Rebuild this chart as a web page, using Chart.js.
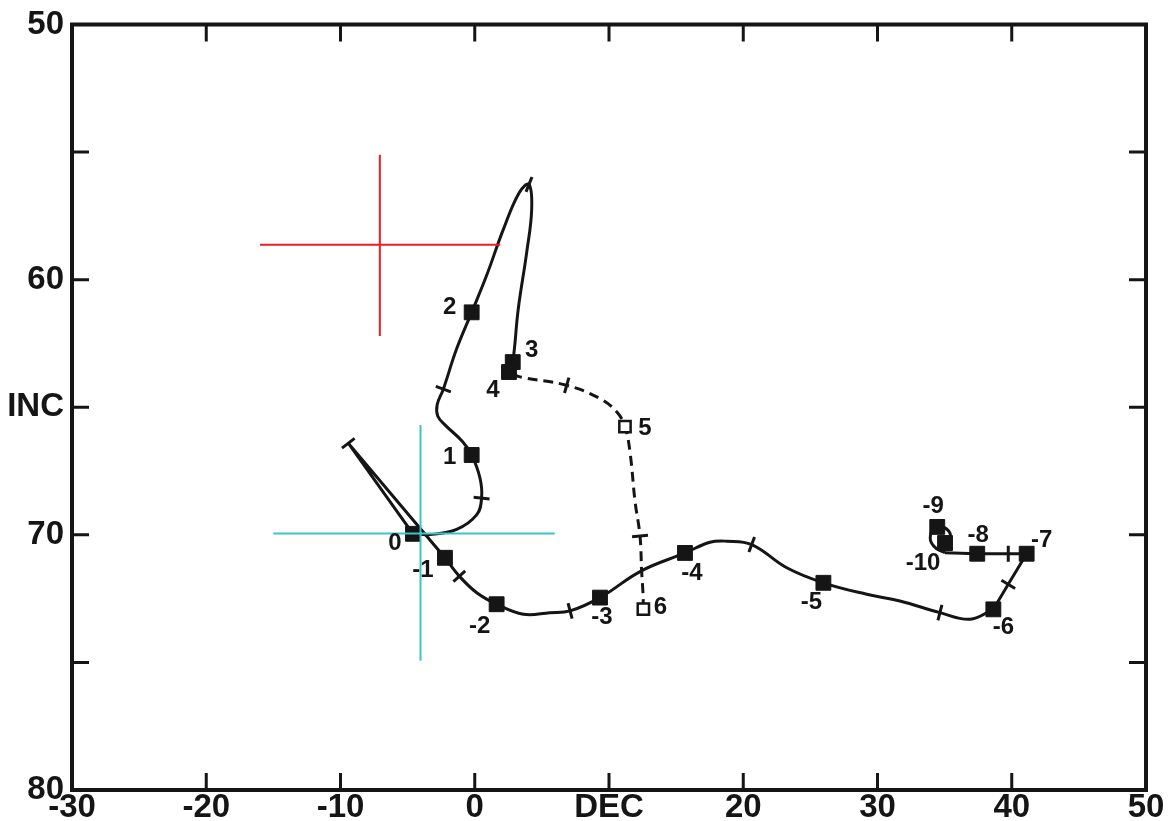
<!DOCTYPE html>
<html>
<head>
<meta charset="utf-8">
<script src="https://cdn.jsdelivr.net/npm/chart.js@4/dist/chart.umd.min.js"></script>
<style>
  html, body { margin: 0; padding: 0; background: #fff; }
  #wrap { width: 1173px; height: 821px; }
</style>
</head>
<body>
<div id="wrap"><canvas id="decInc"></canvas></div>
<script>
// axis ticks
const xTickValues = [-30, -20, -10, 0, 10, 20, 30, 40, 50];
const xTickLabels = ["-30", "-20", "-10", "0", "DEC", "20", "30", "40", "50"];
const yTickValues = [50, 55, 60, 65, 70, 75, 80];
const yTickLabels = ["50", "", "60", "INC", "70", "", "80"];

// solid path, 4 -> 3 -> loop top -> 2 -> 1 -> 0
const upperDec = [2.55, 2.83, 3.24, 3.87, 4.24, 4.04, 3.3, 2.13, 0.88, -0.23, -1.35, -2.34, -2.8, -2.75, -2.2, -0.9, -0.23, 0.39, 0.51, 0.15, -1.35, -3.33, -4.6];
const upperInc = [63.62, 63.23, 61.15, 58.93, 57.25, 56.27, 56.6, 58.03, 59.84, 61.28, 62.71, 64.29, 64.9, 65.35, 65.7, 66.35, 66.87, 67.78, 68.56, 69.21, 69.79, 69.99, 69.96];

// narrow excursion between 0 and -1
const wedgeDec = [-4.6, -9.42, -2.22];
const wedgeInc = [69.96, 66.41, 70.9];

// solid path, -1 -> -6
const lowerDec = [-2.22, -1.15, 0.15, 1.63, 3.62, 5.6, 7.1, 9.33, 12.38, 15.66, 17.52, 18.77, 20.63, 23.24, 25.97, 29.2, 31.67, 34.65, 36.89, 38.63];
const lowerInc = [70.9, 71.62, 72.27, 72.72, 73.11, 73.05, 72.98, 72.46, 71.42, 70.71, 70.29, 70.25, 70.38, 71.29, 71.88, 72.33, 72.59, 73.05, 73.31, 72.92];

// -6 -> -7 -> -8 -> -10
const eastDec = [38.63, 39.74, 41.11, 39.74, 37.43, 35.03];
const eastInc = [72.92, 71.94, 70.74, 70.74, 70.74, 70.7];

// small loop at -10 / -9
const loopDec = [35.03, 34.2, 33.95, 34.45, 35.3, 35.35, 35.03];
const loopInc = [70.7, 70.45, 70.0, 69.69, 69.85, 70.25, 70.32];

// dashed path, 6 -> 5 -> 4
const dashDec = [12.56, 12.53, 12.43, 12.31, 11.94, 11.56, 11.19, 10.57, 9.33, 6.85, 3.37, 2.55];
const dashInc = [72.91, 72.27, 71.42, 70.05, 68.69, 66.74, 65.76, 65.18, 64.66, 64.14, 63.81, 63.62];

// filled squares
const fullDec = [2.55, 2.83, -0.23, -0.23, -4.6, -2.22, 1.63, 9.33, 15.66, 25.97, 38.63, 41.11, 37.43, 34.45, 35.03];
const fullInc = [63.62, 63.23, 61.28, 66.87, 69.96, 70.9, 72.72, 72.46, 70.71, 71.88, 72.92, 70.74, 70.74, 69.69, 70.32];
const fullLabels = ["4", "3", "2", "1", "0", "-1", "-2", "-3", "-4", "-5", "-6", "-7", "-8", "-9", "-10"];

// open squares
const openDec = [11.19, 12.56];
const openInc = [65.76, 72.91];
const openLabels = ["5", "6"];

// cross ticks on the paths
const tickDec = [4.04, -2.34, 0.51, -9.42, -1.15, 7.1, 20.63, 34.65, 39.74, 39.74, 6.85, 12.31];
const tickInc = [56.27, 64.29, 68.56, 66.41, 71.62, 72.98, 70.38, 73.05, 71.94, 70.74, 64.14, 70.05];

// reference crosses: [left, centre, right] and [top, centre, bottom]
const redDec = [-16.0, -7.07, 1.9];
const redInc = [55.1, 58.63, 62.21];
const cyanDec = [-15.01, -4.04, 5.96];
const cyanInc = [65.7, 69.95, 74.93];

// label offsets in px from their square
const fullOffsets = [[-16, 18], [19, -12], [-22, -5], [-22, 2], [-18, 10], [-22, 13], [-17, 22], [2, 20], [7, 20], [-12, 20], [10, 18], [15, -13], [1, -18], [-4, -21], [-22, 20]];
const openOffsets = [[20, 2], [17, -2]];

const INK = "#151515";
const FONT = "'Liberation Sans', Arial, sans-serif";

const pts = (xs, ys) => xs.map((x, i) => ({ x: x, y: ys[i] }));

const paths = [
  [upperDec, upperInc],
  [wedgeDec, wedgeInc],
  [lowerDec, lowerInc],
  [eastDec, eastInc],
  [loopDec, loopInc],
  [dashDec, dashInc],
];

// tick marks sit across the path they belong to
function tickRotation(ctx) {
  const chart = ctx.chart;
  const sx = chart.scales.x, sy = chart.scales.y;
  const p = ctx.raw;
  if (!p || !sx || !sy) return 0;
  const px = sx.getPixelForValue(p.x), py = sy.getPixelForValue(p.y);
  if (!isFinite(px) || !isFinite(py)) return 0;
  let best = null, bestD = Infinity;
  paths.forEach(([xs, ys]) => {
    xs.forEach((x, j) => {
      const d = Math.hypot(sx.getPixelForValue(x) - px, sy.getPixelForValue(ys[j]) - py);
      if (d < bestD) { bestD = d; best = [xs, ys, j]; }
    });
  });
  if (!best) return 0;
  const [xs, ys, j] = best;
  const P = (k) => [sx.getPixelForValue(xs[k]), sy.getPixelForValue(ys[k])];
  const prev = P(Math.max(0, j - 1)), cur = P(j), next = P(Math.min(xs.length - 1, j + 1));
  const unit = (a, b) => {
    const dx = b[0] - a[0], dy = b[1] - a[1], l = Math.hypot(dx, dy) || 1;
    return [dx / l, dy / l];
  };
  const d1 = j > 0 ? unit(prev, cur) : unit(cur, next);
  const d2 = j < xs.length - 1 ? unit(cur, next) : d1;
  let t = [d1[0] + d2[0], d1[1] + d2[1]];
  if (Math.hypot(t[0], t[1]) < 0.5) t = [d2[0] - d1[0], d2[1] - d1[1]];
  return Math.atan2(t[1], t[0]) * 180 / Math.PI + 90;
}

const solid = (xs, ys, tension) => ({
  data: pts(xs, ys),
  showLine: true,
  borderColor: INK,
  borderWidth: 3,
  pointRadius: 0,
  tension: tension,
  order: 3,
});

const frame = {
  id: "frame",
  beforeDatasetsDraw(chart) {
    const { ctx, chartArea: a, scales: { x, y } } = chart;
    ctx.save();
    ctx.strokeStyle = INK;
    ctx.lineWidth = 4;
    ctx.strokeRect(a.left, a.top, a.right - a.left, a.bottom - a.top);
    ctx.lineWidth = 3;
    ctx.beginPath();
    xTickValues.slice(1, -1).forEach((v) => {
      const px = x.getPixelForValue(v);
      ctx.moveTo(px, a.bottom); ctx.lineTo(px, a.bottom - 17);
      ctx.moveTo(px, a.top); ctx.lineTo(px, a.top + 17);
    });
    yTickValues.slice(1, -1).forEach((v) => {
      const py = y.getPixelForValue(v);
      ctx.moveTo(a.left, py); ctx.lineTo(a.left + 17, py);
      ctx.moveTo(a.right, py); ctx.lineTo(a.right - 17, py);
    });
    ctx.stroke();
    ctx.restore();
  },
};

const pointLabels = {
  id: "pointLabels",
  afterDatasetsDraw(chart) {
    const { ctx, scales: { x, y } } = chart;
    ctx.save();
    ctx.fillStyle = INK;
    ctx.font = "bold 24px " + FONT;
    ctx.textAlign = "center";
    ctx.textBaseline = "middle";
    const put = (xs, ys, labels, offsets) => {
      labels.forEach((t, i) => {
        ctx.fillText(t, x.getPixelForValue(xs[i]) + offsets[i][0], y.getPixelForValue(ys[i]) + offsets[i][1]);
      });
    };
    put(fullDec, fullInc, fullLabels, fullOffsets);
    put(openDec, openInc, openLabels, openOffsets);
    ctx.restore();
  },
};

new Chart(document.getElementById("decInc"), {
  type: "scatter",
  data: {
    datasets: [
      // reference crosses
      { data: [{ x: redDec[0], y: redInc[1] }, { x: redDec[2], y: redInc[1] }], showLine: true, borderColor: "#ee1c25", borderWidth: 2, pointRadius: 0, order: 0 },
      { data: [{ x: redDec[1], y: redInc[0] }, { x: redDec[1], y: redInc[2] }], showLine: true, borderColor: "#ee1c25", borderWidth: 2, pointRadius: 0, order: 0 },
      { data: [{ x: cyanDec[0], y: cyanInc[1] }, { x: cyanDec[2], y: cyanInc[1] }], showLine: true, borderColor: "#3dc3c9", borderWidth: 2, pointRadius: 0, order: 0 },
      { data: [{ x: cyanDec[1], y: cyanInc[0] }, { x: cyanDec[1], y: cyanInc[2] }], showLine: true, borderColor: "#3dc3c9", borderWidth: 2, pointRadius: 0, order: 0 },
      // markers
      {
        data: pts(fullDec, fullInc),
        pointStyle: "rect",
        pointRadius: 10.5,
        pointBackgroundColor: INK,
        pointBorderColor: INK,
        pointBorderWidth: 1,
        order: 1,
      },
      {
        data: pts(openDec, openInc),
        pointStyle: "rect",
        pointRadius: 8,
        pointBackgroundColor: "#fff",
        pointBorderColor: INK,
        pointBorderWidth: 2.5,
        order: 1,
      },
      {
        data: pts(tickDec, tickInc),
        pointStyle: "line",
        pointRadius: 8,
        pointBorderColor: INK,
        pointBorderWidth: 3,
        pointRotation: tickRotation,
        order: 2,
      },
      // paths
      solid(upperDec, upperInc, 0.4),
      solid(wedgeDec, wedgeInc, 0),
      solid(lowerDec, lowerInc, 0.4),
      solid(eastDec, eastInc, 0),
      solid(loopDec, loopInc, 0.5),
      {
        data: pts(dashDec, dashInc),
        showLine: true,
        borderColor: INK,
        borderWidth: 3,
        borderDash: [10, 6],
        pointRadius: 0,
        tension: 0.4,
        order: 3,
      },
    ],
  },
  options: {
    responsive: true,
    maintainAspectRatio: false,
    animation: false,
    events: [],
    layout: { padding: { top: 21, right: 27, left: 0, bottom: 0 } },
    plugins: {
      legend: { display: false },
      tooltip: { enabled: false },
    },
    scales: {
      x: {
        type: "linear",
        min: -30,
        max: 50,
        afterBuildTicks: (s) => { s.ticks = xTickValues.map((v) => ({ value: v })); },
        afterFit: (s) => { s.height = 31; },
        grid: { display: false, drawTicks: false },
        border: { display: false },
        ticks: {
          autoSkip: false,
          maxRotation: 0,
          padding: 1,
          color: INK,
          font: { family: FONT, size: 33, weight: "bold", lineHeight: 1 },
          callback: (v) => xTickLabels[xTickValues.indexOf(v)],
        },
      },
      y: {
        type: "linear",
        reverse: true,
        min: 50,
        max: 80,
        afterBuildTicks: (s) => { s.ticks = yTickValues.map((v) => ({ value: v })); },
        afterFit: (s) => { s.width = 72; },
        grid: { display: false, drawTicks: false },
        border: { display: false },
        ticks: {
          autoSkip: false,
          padding: 8,
          color: INK,
          font: { family: FONT, size: 33, weight: "bold", lineHeight: 1 },
          callback: (v) => yTickLabels[yTickValues.indexOf(v)],
        },
      },
    },
  },
  plugins: [frame, pointLabels],
});
</script>
</body>
</html>
